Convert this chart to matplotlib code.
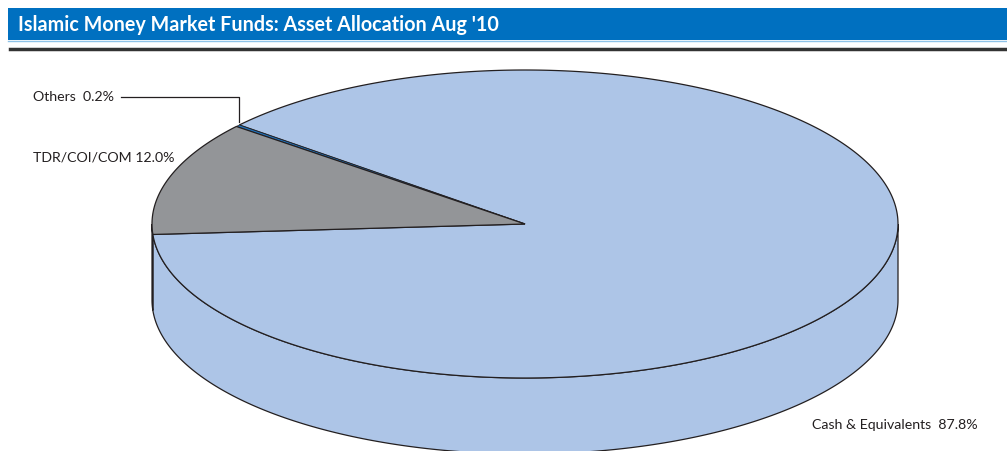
import numpy as np
import matplotlib.pyplot as plt
from matplotlib.patches import Polygon, Rectangle

title = "Islamic Money Market Funds: Asset Allocation Aug '10"
# slices in drawing order (counter-clockwise from start angle)
categories = ["Cash & Equivalents", "Others", "TDR/COI/COM"]
shares = [87.8, 0.2, 12.0]
colors = ["#adc5e7", "#1f6fb7", "#939598"]

# pie geometry (pixels, y down)
cx, cy = 525, 224
a, b = 373, 154
depth = 76
start = 183.9
edge = "#231f20"

plt.rcParams['font.family'] = ['Lato', 'DejaVu Sans']

fig = plt.figure(figsize=(10.07, 4.51), dpi=100)
ax = fig.add_axes([0, 0, 1, 1])
ax.set_xlim(0, 1007)
ax.set_ylim(451, 0)
ax.axis("off")


def pt(theta, dy=0):
    t = np.radians(theta)
    return cx + a * np.cos(t), cy - b * np.sin(t) + dy


# header
ax.add_patch(Rectangle((8, 8), 999, 32, color="#0070c0", lw=0))
ax.plot([8, 1007], [40.5, 40.5], color="#8fc3e8", lw=1)
ax.plot([10, 1007], [48.5, 48.5], color="#333333", lw=2.5)
ax.text(18, 25, title, color="white", fontsize=14.2, fontweight="bold", va="center")

angles = start + np.cumsum([0] + [s / 100 * 360 for s in shares])

# side walls (front half: 180..360 deg)
for i, c in enumerate(colors):
    lo, hi = angles[i], angles[i + 1]
    for k in (0, 360):
        s0, s1 = max(lo, 180 + k), min(hi, 360 + k)
        if s1 <= s0:
            continue
        th = np.linspace(s0, s1, 200)
        x, y = pt(th)
        xs = np.concatenate([x, x[::-1]])
        ys = np.concatenate([y, (y + depth)[::-1]])
        ax.add_patch(Polygon(np.column_stack([xs, ys]), closed=True, fc=c, ec=edge, lw=0.9))

# top face
for i, c in enumerate(colors):
    th = np.linspace(angles[i], angles[i + 1], 400)
    x, y = pt(th)
    xs = np.concatenate([[cx], x])
    ys = np.concatenate([[cy], y])
    lw = 0.5 if shares[i] < 1 else 0.9
    ax.add_patch(Polygon(np.column_stack([xs, ys]), closed=True, fc=c, ec=edge, lw=lw))

# labels
fs = 10.2
ax.text(33, 97, f"{categories[1]}  {shares[1]:.1f}%", fontsize=fs, color="#231f20", va="center")
ox, oy = pt((angles[1] + angles[2]) / 2)
ax.plot([121, ox + 1, ox + 1], [97, 97, oy - 4], color="#231f20", lw=0.9)
ax.text(33, 157, f"{categories[2]} {shares[2]:.1f}%", fontsize=fs, color="#231f20", va="center")
ax.text(812, 425, f"{categories[0]}  {shares[0]:.1f}%", fontsize=fs, color="#231f20", va="center")

fig.savefig("out.png", dpi=100)
